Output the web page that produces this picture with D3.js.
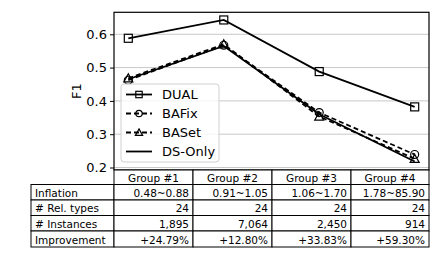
<!DOCTYPE html>
<html><head><meta charset="utf-8">
<script src="https://cdn.jsdelivr.net/npm/d3@7"></script>
<style>body{margin:0;background:#fff}svg{display:block}</style>
</head><body>
<svg id="c" width="443" height="256"></svg>
<script>
const groups = ["Group #1","Group #2","Group #3","Group #4"];
const dual   = [0.588, 0.643, 0.488, 0.382];
const bafix  = [0.462, 0.567, 0.365, 0.239];
const baset  = [0.468, 0.570, 0.353, 0.226];
const dsonly = [0.465, 0.565, 0.360, 0.218];
const yTicks = [0.2, 0.3, 0.4, 0.5, 0.6];
const rowLabels = ["Inflation", "# Rel. types", "# Instances", "Improvement"];
const inflation = ["0.48~0.88", "0.91~1.05", "1.06~1.70", "1.78~85.90"];
const relTypes  = ["24", "24", "24", "24"];
const instances = ["1,895", "7,064", "2,450", "914"];
const improvement = ["+24.79%", "+12.80%", "+33.83%", "+59.30%"];

const svg = d3.select("#c");
const L = 114, R = 429, T = 12.3, B = 170;
const x = d3.scaleLinear().domain([-0.15, 3.15]).range([L, R]);
const y = d3.scaleLinear().domain([0.1925, 0.666]).range([B, T]);
const font = "DejaVu Sans, sans-serif";

// grid
svg.append("g").selectAll("line").data(yTicks).join("line")
  .attr("x1", L).attr("x2", R).attr("y1", d => y(d)).attr("y2", d => y(d))
  .attr("stroke", "#c8c8c8").attr("stroke-width", 1);

// y axis
const ya = svg.append("g").attr("transform", `translate(${L},0)`)
  .call(d3.axisLeft(y).tickValues(yTicks).tickFormat(d3.format(".1f")).tickSize(4).tickPadding(3));
ya.select(".domain").remove();
ya.selectAll("text").attr("font-family", font).attr("font-size", 13).attr("fill", "#000");
ya.selectAll("line").attr("stroke", "#000");

svg.append("text").attr("transform", "translate(76,91) rotate(-90)")
  .attr("text-anchor", "middle").attr("dominant-baseline", "central")
  .attr("font-family", font).attr("font-size", 13).text("F1");

const series = [
  {name: "DUAL", vals: dual, dash: null, marker: "square"},
  {name: "BAFix", vals: bafix, dash: "5,3", marker: "circle"},
  {name: "BASet", vals: baset, dash: "5,3", marker: "triangle"},
  {name: "DS-Only", vals: dsonly, dash: null, marker: null}
];
const line = d3.line().x((d, i) => x(i)).y(d => y(d));

function drawMarker(g, type, cx, cy, k) {
  if (type === "square") {
    g.append("rect").attr("x", cx - 4 * k).attr("y", cy - 4 * k).attr("width", 8 * k).attr("height", 8 * k)
      .attr("fill", "none").attr("stroke", "#000").attr("stroke-width", 1.2);
  } else if (type === "circle") {
    g.append("circle").attr("cx", cx).attr("cy", cy).attr("r", 4 * k)
      .attr("fill", "none").attr("stroke", "#000").attr("stroke-width", 1.2);
  } else if (type === "triangle") {
    const s = 4.5 * k;
    g.append("path").attr("d", `M${cx},${cy - s}L${cx + s},${cy + s * 0.8}L${cx - s},${cy + s * 0.8}Z`)
      .attr("fill", "none").attr("stroke", "#000").attr("stroke-width", 1.2);
  }
}

const plot = svg.append("g");
series.forEach(s => {
  plot.append("path").attr("d", line(s.vals)).attr("fill", "none")
    .attr("stroke", "#000").attr("stroke-width", 1.8)
    .attr("stroke-dasharray", s.dash);
  if (s.marker) s.vals.forEach((v, i) => drawMarker(plot, s.marker, x(i), y(v), 1));
});

// axes frame
svg.append("rect").attr("x", L).attr("y", T).attr("width", R - L).attr("height", B - T)
  .attr("fill", "none").attr("stroke", "#000").attr("stroke-width", 1.2);

// legend
const lg = svg.append("g");
lg.append("rect").attr("x", 121).attr("y", 84).attr("width", 98).attr("height", 78).attr("rx", 3)
  .attr("fill", "rgba(255,255,255,0.8)").attr("stroke", "#d0d0d0");
series.forEach((s, i) => {
  const ly = 94.5 + i * 19;
  lg.append("line").attr("x1", 126).attr("x2", 152).attr("y1", ly).attr("y2", ly)
    .attr("stroke", "#000").attr("stroke-width", 1.8).attr("stroke-dasharray", s.dash);
  if (s.marker) drawMarker(lg, s.marker, 139, ly, 0.8);
  lg.append("text").attr("x", 162).attr("y", ly).attr("dominant-baseline", "central")
    .attr("font-family", font).attr("font-size", 13).text(s.name);
});

// table
const colX = [114, 193, 272, 351, 429];
const labX0 = 31;
const rowY = [170, 184.5, 200, 215.5, 231, 247];
const tbl = svg.append("g").attr("font-family", font).attr("font-size", 10.5);
// header
groups.forEach((g, i) => {
  tbl.append("rect").attr("x", colX[i]).attr("y", rowY[0]).attr("width", colX[i + 1] - colX[i])
    .attr("height", rowY[1] - rowY[0]).attr("fill", "#fff").attr("stroke", "#000");
  tbl.append("text").attr("x", (colX[i] + colX[i + 1]) / 2).attr("y", (rowY[0] + rowY[1]) / 2 + 0.5)
    .attr("text-anchor", "middle").attr("dominant-baseline", "central").text(g);
});
const rows = [inflation, relTypes, instances, improvement];
rows.forEach((r, ri) => {
  const y0 = rowY[ri + 1], y1 = rowY[ri + 2];
  tbl.append("rect").attr("x", labX0).attr("y", y0).attr("width", colX[0] - labX0).attr("height", y1 - y0)
    .attr("fill", "#fff").attr("stroke", "#000");
  tbl.append("text").attr("x", labX0 + 4).attr("y", (y0 + y1) / 2 + 0.5)
    .attr("dominant-baseline", "central").text(rowLabels[ri]);
  r.forEach((v, i) => {
    tbl.append("rect").attr("x", colX[i]).attr("y", y0).attr("width", colX[i + 1] - colX[i])
      .attr("height", y1 - y0).attr("fill", "#fff").attr("stroke", "#000");
    tbl.append("text").attr("x", colX[i + 1] - 4).attr("y", (y0 + y1) / 2 + 0.5)
      .attr("text-anchor", "end").attr("dominant-baseline", "central").text(v);
  });
});
</script>
</body></html>
